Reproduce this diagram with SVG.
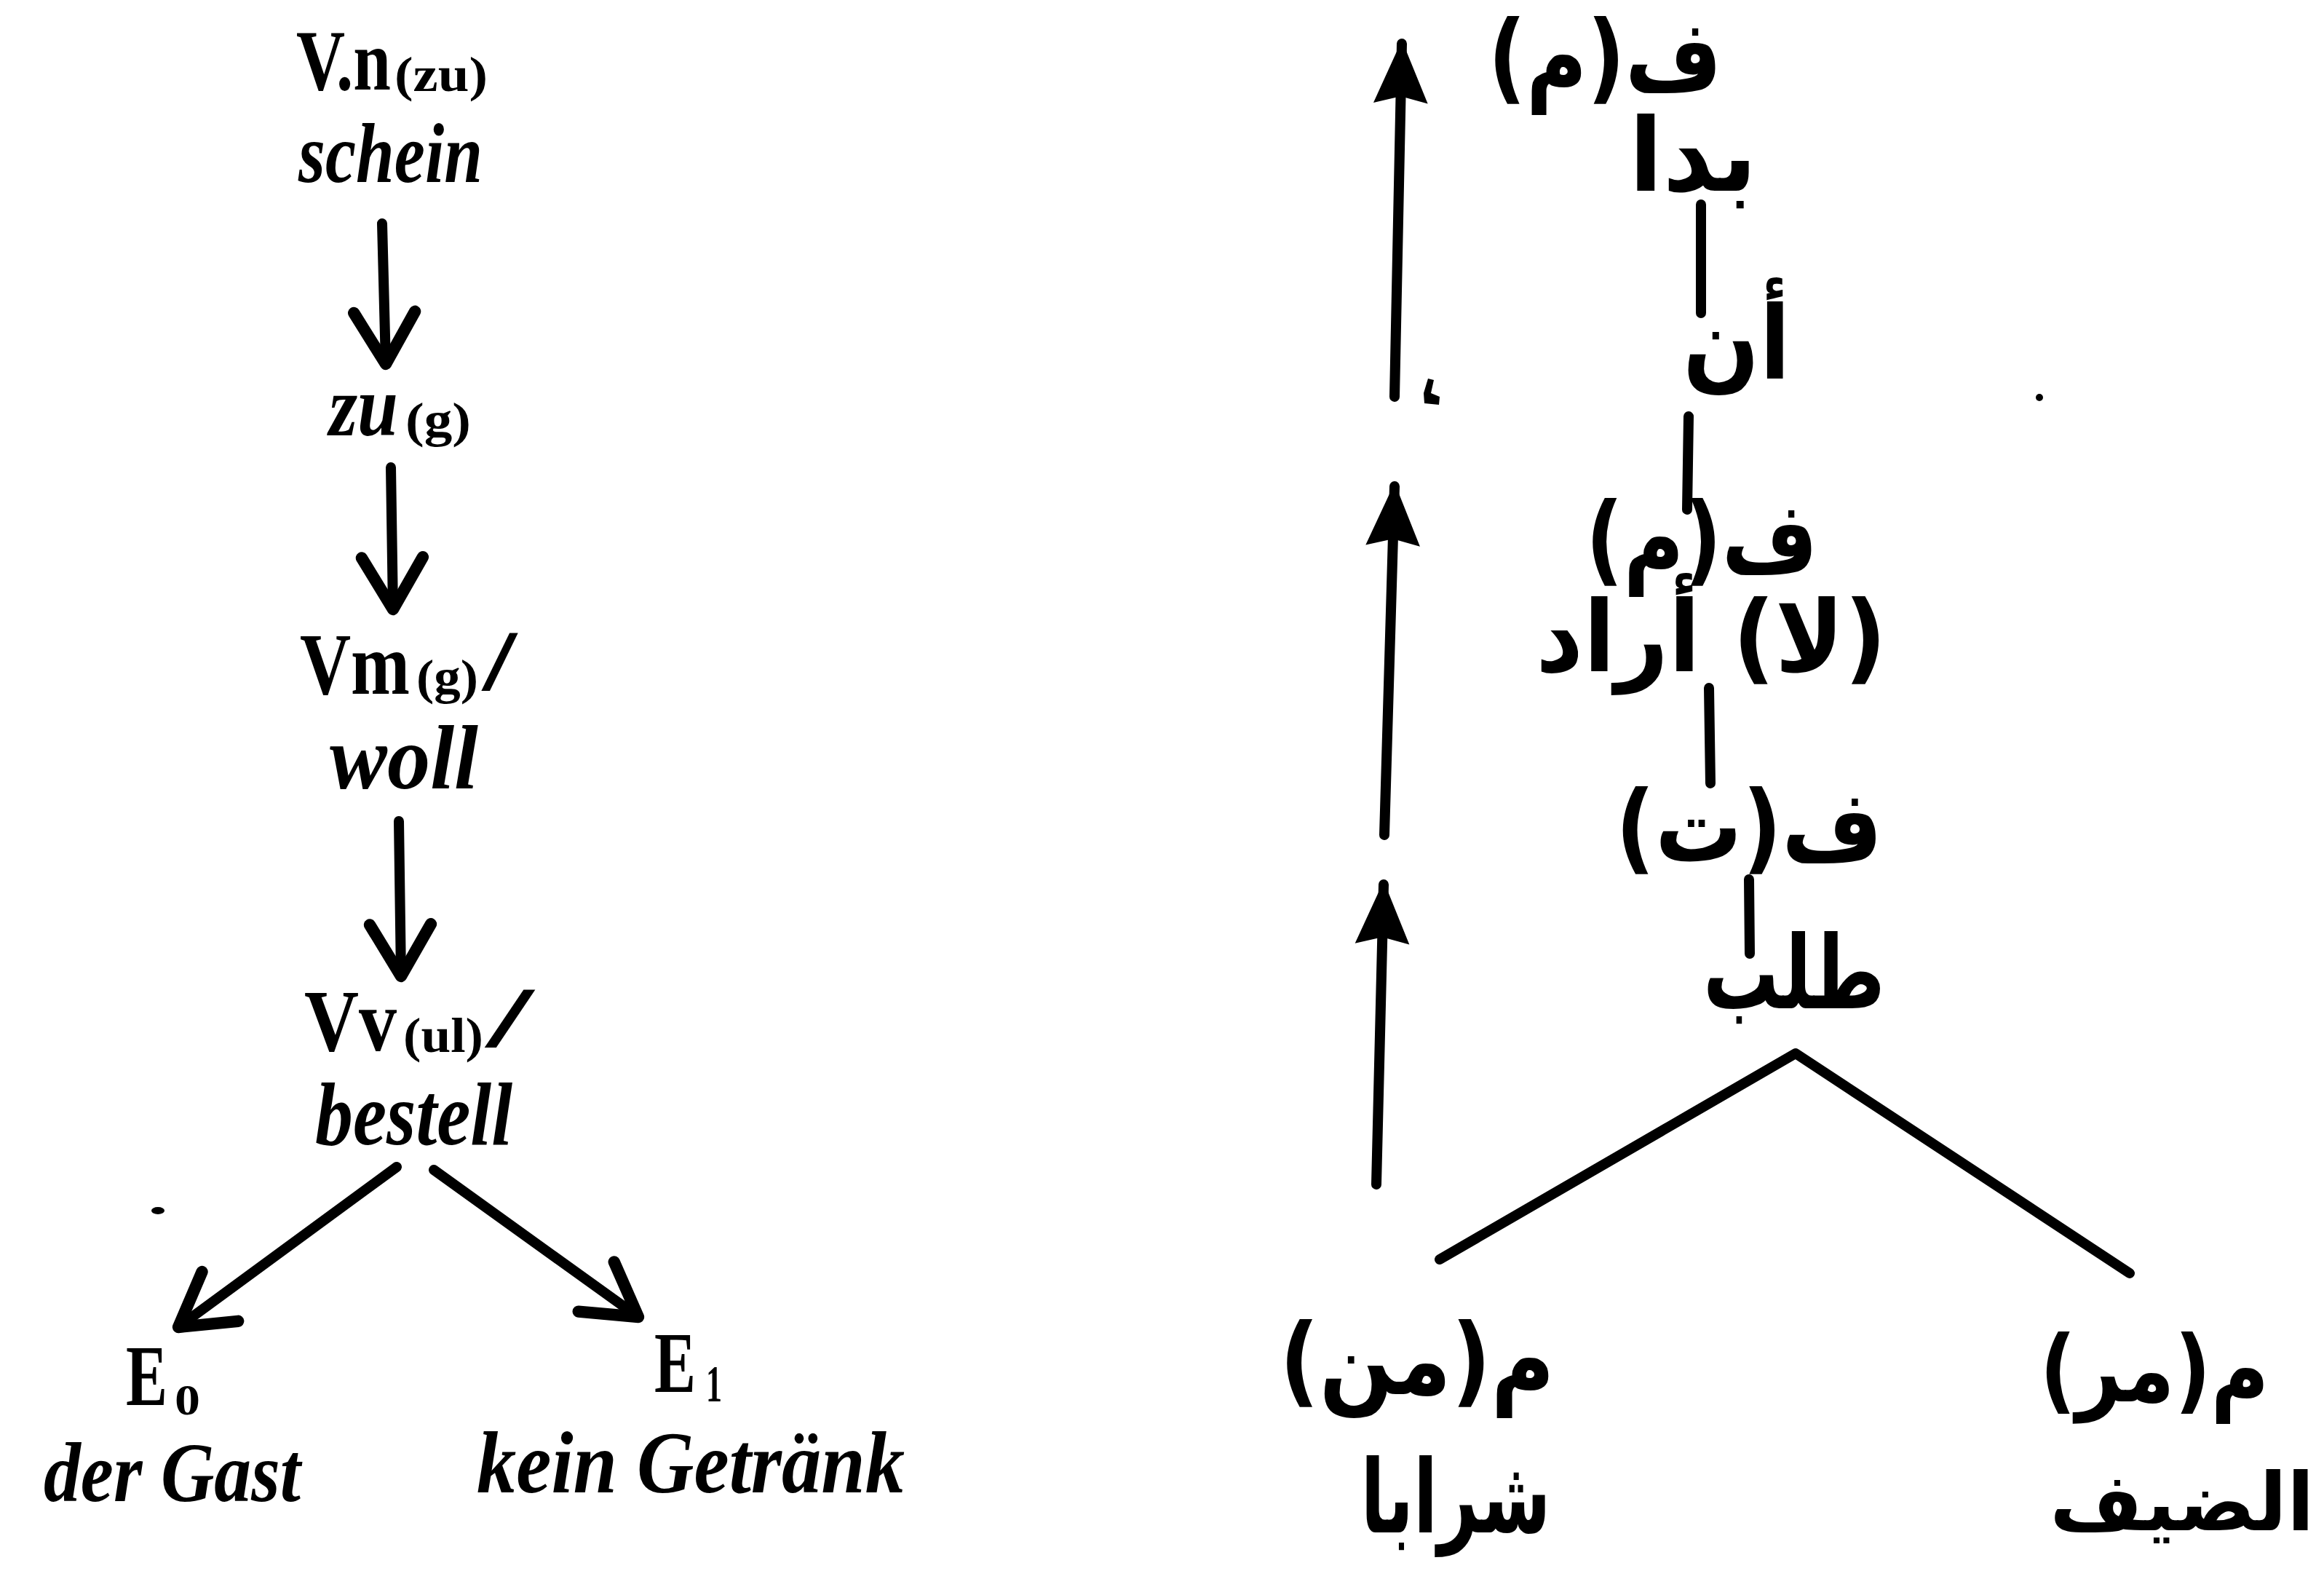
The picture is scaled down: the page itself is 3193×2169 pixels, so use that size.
<svg xmlns="http://www.w3.org/2000/svg" width="3193" height="2169" viewBox="0 0 3193 2169">
<style>
.lat{font-family:"Liberation Serif",serif;font-weight:bold;fill:#000}
.it{font-style:italic}
.ar{font-family:"DejaVu Sans",sans-serif;font-weight:bold;fill:#000}
.ln{stroke:#000;stroke-width:14;fill:none;stroke-linecap:round;stroke-linejoin:round}
</style>
<defs>
<marker id="open" markerUnits="userSpaceOnUse" markerWidth="140" markerHeight="140" viewBox="-90 -60 110 120" refX="0" refY="0" orient="auto" overflow="visible">
<path d="M-61,-36 L0,0 L-61,36" fill="none" stroke="#000" stroke-width="14" stroke-linecap="round" stroke-linejoin="round"/>
</marker>
<marker id="solid" markerUnits="userSpaceOnUse" markerWidth="140" markerHeight="140" viewBox="-90 -60 110 120" refX="0" refY="0" orient="auto" overflow="visible">
<path d="M4,0 L-70,-32 L-62,0 L-70,32 Z" fill="#000"/>
</marker>
</defs>
<rect width="3193" height="2169" fill="#fff"/>

<g id="connectors">
<path class="ln" d="M525,307 L530,500" marker-end="url(#open)"/>
<path class="ln" d="M537,642 L540,837" marker-end="url(#open)"/>
<path class="ln" d="M548,1128 L551,1341" marker-end="url(#open)"/>
<path class="ln" d="M545,1603 L245,1823" marker-end="url(#open)"/>
<path class="ln" d="M596,1607 L877,1809" marker-end="url(#open)"/>
<path class="ln" d="M1916,545 L1926,60" marker-end="url(#solid)"/>
<path class="ln" d="M1902,1147 L1916,668" marker-end="url(#solid)"/>
<path class="ln" d="M1891,1627 L1901,1215" marker-end="url(#solid)"/>
<path class="ln" d="M2337,281 L2337,430"/>
<path class="ln" d="M2320,572 L2318,700"/>
<path class="ln" d="M2348,945 L2350,1076"/>
<path class="ln" d="M2403,1208 L2404,1310"/>
<path class="ln" d="M1978,1730 L2467,1447 L2926,1749"/>
</g>

<g id="n-vn"><text class="lat"><tspan x="407" y="123" font-size="118" textLength="130" lengthAdjust="spacingAndGlyphs">V.n</tspan><tspan x="542" y="125" font-size="68" textLength="128" lengthAdjust="spacingAndGlyphs">(zu)</tspan><tspan class="it" x="410" y="250" font-size="116" textLength="253" lengthAdjust="spacingAndGlyphs">schein</tspan></text></g>
<g id="n-zu"><text class="lat"><tspan class="it" x="452" y="598" font-size="118" textLength="95" lengthAdjust="spacingAndGlyphs">zu</tspan><tspan x="557" y="600" font-size="68" textLength="90" lengthAdjust="spacingAndGlyphs">(g)</tspan></text></g>
<g id="n-vm"><text class="lat"><tspan x="412" y="953" font-size="120" textLength="151" lengthAdjust="spacingAndGlyphs">Vm</tspan><tspan x="572" y="953" font-size="68" textLength="85" lengthAdjust="spacingAndGlyphs">(g)</tspan><tspan x="663" y="948" font-size="118" textLength="47" lengthAdjust="spacingAndGlyphs">/</tspan><tspan class="it" x="453" y="1083" font-size="124" textLength="204" lengthAdjust="spacingAndGlyphs">woll</tspan></text></g>
<g id="n-vv"><text class="lat"><tspan x="418" y="1443" font-size="120" textLength="127" lengthAdjust="spacingAndGlyphs">Vv</tspan><tspan x="554" y="1445" font-size="68" textLength="110" lengthAdjust="spacingAndGlyphs">(ul)</tspan><tspan x="668" y="1438" font-size="118" textLength="65" lengthAdjust="spacingAndGlyphs">/</tspan><tspan class="it" x="433" y="1572" font-size="122" textLength="271" lengthAdjust="spacingAndGlyphs">bestell</tspan></text></g>
<g id="n-e0"><text class="lat"><tspan x="173" y="1930" font-size="118" textLength="57" lengthAdjust="spacingAndGlyphs">E</tspan><tspan x="240" y="1943" font-size="60" textLength="35" lengthAdjust="spacingAndGlyphs">0</tspan><tspan class="it" x="60" y="2062" font-size="116" textLength="353" lengthAdjust="spacingAndGlyphs">der Gast</tspan></text></g>
<g id="n-e1"><text class="lat"><tspan x="899" y="1912" font-size="118" textLength="57" lengthAdjust="spacingAndGlyphs">E</tspan><tspan x="970" y="1925" font-size="72" textLength="22" lengthAdjust="spacingAndGlyphs">1</tspan><tspan class="it" x="655" y="2050" font-size="120" textLength="588" lengthAdjust="spacingAndGlyphs">kein Getränk</tspan></text></g>

<g id="a-fm1"><text class="ar" direction="rtl" text-anchor="middle" x="2205" y="125" font-size="136" textLength="321" lengthAdjust="spacingAndGlyphs">ف(م)</text></g>
<g id="a-bada"><text class="ar" direction="rtl" text-anchor="middle" x="2326" y="262" font-size="140" textLength="176" lengthAdjust="spacingAndGlyphs">بدا</text></g>
<g id="a-an"><text class="ar" direction="rtl" text-anchor="middle" x="2386" y="520" font-size="140" textLength="148" lengthAdjust="spacingAndGlyphs">أن</text></g>
<g id="a-fm2"><text class="ar" direction="rtl" text-anchor="middle" x="2338" y="787" font-size="136" textLength="319" lengthAdjust="spacingAndGlyphs">ف(م)</text></g>
<g id="a-arad"><text class="ar" direction="rtl" text-anchor="middle" x="2351" y="922" font-size="136" textLength="482" lengthAdjust="spacingAndGlyphs">(لا) أراد</text></g>
<g id="a-ft"><text class="ar" direction="rtl" text-anchor="middle" x="2403" y="1183" font-size="136" textLength="367" lengthAdjust="spacingAndGlyphs">ف(ت)</text></g>
<g id="a-talab"><text class="ar" direction="rtl" text-anchor="middle" x="2465" y="1385" font-size="140" textLength="250" lengthAdjust="spacingAndGlyphs">طلب</text></g>
<g id="a-man"><text class="ar" direction="rtl" text-anchor="middle" font-size="136"><tspan x="1947" y="1915" textLength="378" lengthAdjust="spacingAndGlyphs">م(من)</tspan><tspan x="2000" y="2105" font-size="140" textLength="261" lengthAdjust="spacingAndGlyphs">شرابا</tspan></text></g>
<g id="a-mar"><text class="ar" direction="rtl" text-anchor="middle" x="2960" y="1925" font-size="126" textLength="315" lengthAdjust="spacingAndGlyphs">م(مر)</text>
<text class="ar" direction="rtl" text-anchor="middle" x="2998" y="2102" font-size="110">الضيف</text></g>

<g id="specks">
<ellipse cx="217" cy="1663" rx="9" ry="5" fill="#000"/>
<path d="M1962,520 L1970,522 L1966,540 L1978,545 L1977,556 L1957,554 L1956,540 Z" fill="#000"/>
<circle cx="2802" cy="546" r="5" fill="#000"/>
</g>
</svg>
